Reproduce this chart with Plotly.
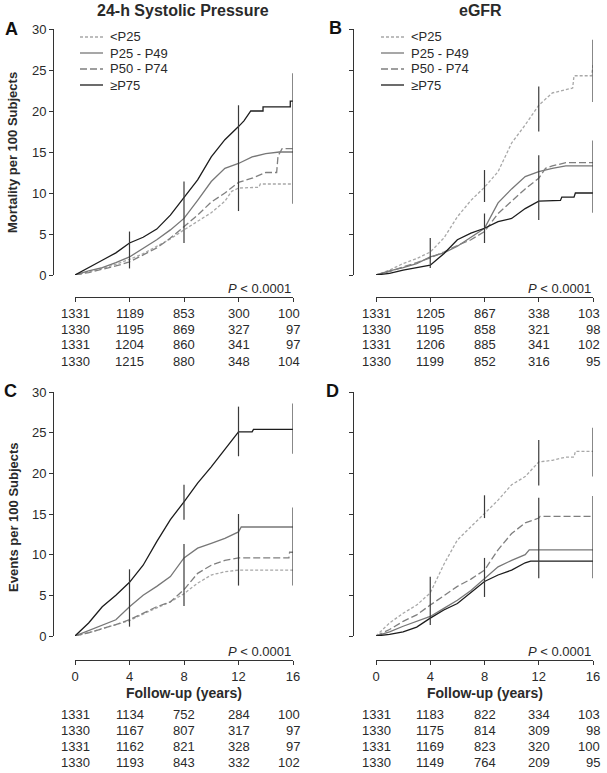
import plotly.graph_objects as go

W, H = 607, 773

def px(x):
    return x / W

def py(y):
    return 1 - y / H

groups = ["<P25", "P25 - P49", "P50 - P74", "≥P75"]
colors = ["#a8a8a8", "#777777", "#7f7f7f", "#1c1c1c"]
dashes = ["3px,2px", "solid", "7px,3px", "solid"]
times = [0, 4, 8, 12, 16]

# ---- A: mortality by 24-h systolic pressure
A_T_LT25 = [0, 1, 2, 3, 4, 5, 6, 7, 8, 9, 10, 11, 11.5, 12, 13.5, 13.6, 16]
A_Y_LT25 = [0, 0.4, 0.8, 1.3, 1.9, 2.6, 3.5, 4.4, 5.5, 6.6, 7.6, 9.0, 10.2, 10.6, 10.7, 11.1, 11.1]
A_T_P25 = [0, 1, 2, 3, 4, 5, 6, 7, 8, 9, 10, 11, 12, 13, 14, 15, 16]
A_Y_P25 = [0, 0.5, 0.9, 1.5, 2.2, 3.2, 4.3, 5.5, 6.9, 9.1, 11.4, 13.0, 13.6, 14.4, 14.8, 15.0, 15.0]
A_T_P50 = [0, 1, 2, 3, 4, 5, 6, 7, 8, 9, 10, 11, 12, 13, 14, 14.8, 14.9, 15.2, 16]
A_Y_P50 = [0, 0.3, 0.7, 1.1, 1.6, 2.4, 3.3, 4.5, 5.9, 7.3, 8.9, 10.0, 11.3, 11.8, 12.5, 12.5, 14.5, 15.4, 15.4]
A_T_P75 = [0, 1, 2, 3, 4, 5, 6, 7, 8, 9, 10, 11, 12, 12.4, 12.9, 13.8, 13.8, 15.8, 15.8, 16]
A_Y_P75 = [0, 0.85, 1.8, 2.7, 3.9, 4.6, 5.6, 7.3, 9.5, 11.6, 14.4, 16.5, 18.1, 18.8, 20.0, 20.0, 20.5, 20.5, 21.2, 21.2]
A_CI_T = [4, 8, 12, 16]
A_CI_LO = [0.8, 3.9, 7.8, 8.7]
A_CI_HI = [5.3, 11.4, 20.7, 24.6]
A_RISK = [[1331, 1189, 853, 300, 100],
          [1330, 1195, 869, 327, 97],
          [1331, 1204, 860, 341, 97],
          [1330, 1215, 880, 348, 104]]

# ---- B: mortality by eGFR
B_T_LT25 = [0, 1, 2, 3, 4, 5, 6, 7, 8, 9, 10, 11, 12, 13, 14, 14.5, 14.6, 15.9, 16]
B_Y_LT25 = [0, 0.6, 1.4, 2.0, 2.8, 4.5, 7.1, 9.1, 10.7, 12.6, 16.1, 18.3, 20.7, 22.2, 22.6, 22.8, 24.3, 24.3, 25.6]
B_T_P25 = [0, 1, 2, 3, 4, 5, 6, 7, 8, 9, 9.5, 10, 11, 12, 13, 14, 16]
B_Y_P25 = [0, 0.5, 0.9, 1.4, 2.2, 2.7, 3.5, 4.6, 5.7, 8.8, 9.7, 10.5, 12.0, 12.6, 13.0, 13.3, 13.3]
B_T_P50 = [0, 1, 2, 3, 4, 5, 6, 7, 8, 9, 10, 11, 12, 12.5, 13, 14, 16]
B_Y_P50 = [0, 0.4, 1.0, 1.5, 2.1, 2.8, 3.6, 4.3, 5.3, 7.5, 9.0, 10.5, 11.8, 13.0, 13.3, 13.7, 13.7]
B_T_P75 = [0, 1, 2, 3, 4, 5, 6, 7, 8, 9, 10, 11, 12, 13.6, 13.7, 14.6, 14.7, 16]
B_Y_P75 = [0, 0.2, 0.6, 0.9, 1.2, 2.6, 4.3, 5.1, 5.7, 6.5, 6.9, 8.1, 9.0, 9.1, 9.5, 9.5, 10.0, 10.0]
B_CI_T = [4, 8, 8, 12, 12, 16, 16]
B_CI_LO = [0.85, 3.9, 8.9, 6.7, 17.5, 7.6, 21.1]
B_CI_HI = [4.5, 7.5, 12.8, 14.6, 23.0, 16.4, 28.7]
B_RISK = [[1331, 1205, 867, 338, 103],
          [1330, 1195, 858, 321, 98],
          [1331, 1206, 885, 341, 102],
          [1330, 1199, 852, 316, 95]]

# ---- C: events by 24-h systolic pressure
C_T_LT25 = [0, 1, 2, 3, 4, 5, 6, 7, 8, 9, 10, 11, 12, 16]
C_Y_LT25 = [0, 0.4, 0.9, 1.4, 1.9, 2.7, 3.5, 4.2, 5.2, 6.5, 7.5, 7.9, 8.1, 8.1]
C_T_P25 = [0, 1, 2, 3, 4, 5, 6, 7, 8, 9, 10, 11, 12, 12.2, 16]
C_Y_P25 = [0, 0.7, 1.35, 2.0, 3.6, 5.0, 6.1, 7.3, 9.6, 10.8, 11.4, 12.0, 12.8, 13.4, 13.4]
C_T_P50 = [0, 1, 2, 3, 4, 5, 6, 7, 8, 9, 10, 11, 12, 15.7, 15.75, 16]
C_Y_P50 = [0, 0.4, 0.9, 1.4, 2.0, 2.8, 3.6, 4.2, 5.7, 7.7, 8.7, 9.3, 9.6, 9.6, 10.3, 10.3]
C_T_P75 = [0, 1, 2, 3, 4, 5, 6, 7, 8, 9, 10, 11, 12, 13.0, 13.1, 16]
C_Y_P75 = [0, 1.6, 3.6, 5.0, 6.6, 8.7, 11.6, 14.3, 16.5, 18.8, 20.8, 22.9, 25.1, 25.1, 25.4, 25.4]
C_CI_T = [4, 8, 8, 12, 12, 16, 16]
C_CI_LO = [1.15, 3.7, 14.3, 6.2, 22.1, 6.2, 22.4]
C_CI_HI = [8.2, 11.3, 18.6, 15.0, 28.2, 15.8, 28.6]
C_RISK = [[1331, 1134, 752, 284, 100],
          [1330, 1167, 807, 317, 97],
          [1331, 1162, 821, 328, 97],
          [1330, 1193, 843, 332, 102]]

# ---- D: events by eGFR
D_T_LT25 = [0, 1, 2, 3, 4, 5, 6, 7, 8, 9, 10, 11, 11.5, 12, 13, 14, 14.6, 14.7, 16]
D_Y_LT25 = [0, 1.6, 2.8, 3.8, 5.3, 8.8, 11.8, 13.4, 15.1, 16.7, 18.6, 19.6, 20.5, 21.4, 21.6, 22.0, 22.0, 22.7, 22.7]
D_T_P25 = [0, 1, 2, 3, 4, 5, 6, 7, 8, 9, 10, 11, 11.3, 16]
D_Y_P25 = [0, 0.5, 1.2, 1.8, 2.4, 3.4, 4.4, 5.6, 7.1, 8.5, 9.3, 10.0, 10.6, 10.6]
D_T_P50 = [0, 1, 2, 3, 4, 5, 6, 7, 8, 9, 10, 11, 12, 12.1, 16]
D_Y_P50 = [0, 0.8, 1.8, 2.6, 3.8, 5.0, 6.1, 7.0, 8.1, 10.6, 12.6, 13.9, 14.5, 14.7, 14.7]
D_T_P75 = [0, 1, 2, 3, 4, 5, 6, 7, 8, 9, 10, 11, 11.4, 16]
D_Y_P75 = [0, 0.2, 0.5, 1.1, 2.2, 3.2, 4.0, 5.4, 6.7, 7.5, 8.1, 9.0, 9.2, 9.2]
D_CI_T = [4, 8, 8, 12, 12, 16, 16]
D_CI_LO = [1.35, 4.8, 14.5, 7.1, 18.5, 7.1, 19.6]
D_CI_HI = [7.3, 9.6, 17.3, 17.0, 24.1, 17.2, 25.6]
D_RISK = [[1331, 1183, 822, 334, 103],
          [1330, 1175, 814, 309, 98],
          [1331, 1169, 823, 320, 100],
          [1330, 1149, 764, 209, 95]]

FONT = "Liberation Sans, Arial, sans-serif"
INK = "#2a2a2a"

panels = [
    # axis suffix, curves, ci, risk table, has legend
    ("", [(A_T_LT25, A_Y_LT25), (A_T_P25, A_Y_P25), (A_T_P50, A_Y_P50), (A_T_P75, A_Y_P75)],
     (A_CI_T, A_CI_LO, A_CI_HI), A_RISK, True),
    ("2", [(B_T_LT25, B_Y_LT25), (B_T_P25, B_Y_P25), (B_T_P50, B_Y_P50), (B_T_P75, B_Y_P75)],
     (B_CI_T, B_CI_LO, B_CI_HI), B_RISK, True),
    ("3", [(C_T_LT25, C_Y_LT25), (C_T_P25, C_Y_P25), (C_T_P50, C_Y_P50), (C_T_P75, C_Y_P75)],
     (C_CI_T, C_CI_LO, C_CI_HI), C_RISK, False),
    ("4", [(D_T_LT25, D_Y_LT25), (D_T_P25, D_Y_P25), (D_T_P50, D_Y_P50), (D_T_P75, D_Y_P75)],
     (D_CI_T, D_CI_LO, D_CI_HI), D_RISK, False),
]

fig = go.Figure()

for suf, curves, ci, risk, leg in panels:
    xa, ya = "x" + suf, "y" + suf
    for i, (t, v) in enumerate(curves):
        fig.add_trace(go.Scatter(
            x=t, y=v, mode="lines", name=groups[i], xaxis=xa, yaxis=ya,
            line=dict(color=colors[i], width=1.3, dash=dashes[i]),
            showlegend=False, hoverinfo="skip"))
    # vertical confidence bars
    bx, by = [], []
    for t, lo, hi in zip(*ci):
        bx += [t, t, None]
        by += [lo, hi, None]
    fig.add_trace(go.Scatter(x=bx, y=by, mode="lines", xaxis=xa, yaxis=ya,
                             line=dict(color="#3a3a3a", width=1.2),
                             showlegend=False, hoverinfo="skip"))

# geometry (pixel positions of the reference)
col_l = [(75, 293, 53), (376, 593, 353)]      # x0, x16, y-axis line
row_t = [(29, 275, 297, [313, 329, 345, 361]),
         (392, 636, 660, [714, 730, 746, 762])]  # y30, y0, x-axis line, table rows

layout = dict(
    width=W, height=H, margin=dict(l=0, r=0, t=0, b=0, autoexpand=False),
    plot_bgcolor="white", paper_bgcolor="white",
    font=dict(family=FONT, size=13, color=INK), showlegend=False,
)

annotations = []
shapes = []
for k, (suf, curves, ci, risk, leg) in enumerate(panels):
    c0, c1, yl = col_l[k % 2]
    r0, r1, xl, rows = row_t[k // 2]
    layout["xaxis" + suf] = dict(
        domain=[px(c0), px(c1)], range=[0, 16], anchor="free", position=py(xl),
        showline=True, linecolor="#333", linewidth=1, ticks="outside", ticklen=4,
        tickcolor="#333", tickvals=times, showticklabels=(k >= 2), showgrid=False,
        zeroline=False, automargin=False, tickfont=dict(size=13, color=INK))
    layout["yaxis" + suf] = dict(
        domain=[py(r1), py(r0)], range=[0, 30], anchor="free", position=px(yl),
        showline=True, linecolor="#333", linewidth=1, ticks="outside", ticklen=4,
        tickcolor="#333", tickvals=[0, 5, 10, 15, 20, 25, 30],
        showticklabels=(k % 2 == 0), showgrid=False, zeroline=False,
        automargin=False, tickfont=dict(size=13, color=INK))
    # P value
    annotations.append(dict(text="<i>P</i> < 0.0001", x=16, xref="x" + suf, y=py(xl - 9),
                            yref="paper", xanchor="right", yanchor="middle",
                            showarrow=False, font=dict(size=13)))
    # numbers at risk
    for r, vals in enumerate(risk):
        for j, v in enumerate(vals):
            last = j == len(vals) - 1
            annotations.append(dict(
                text=str(v), x=times[j], xref="x" + suf, y=py(rows[r]), yref="paper",
                xanchor="right" if last else "center", xshift=9 if last else 0,
                yanchor="middle", showarrow=False, font=dict(size=13)))
    if k >= 2:
        annotations.append(dict(text="<b>Follow-up (years)</b>", x=8, xref="x" + suf,
                                y=py(693), yref="paper", showarrow=False, xanchor="center",
                                font=dict(size=14), yanchor="middle"))
    # legend drawn by hand (tighter rows than plotly's legend allows)
    if leg:
        lx = c0 + 5
        for i, name in enumerate(groups):
            ly = 37 + 16 * i
            shapes.append(dict(type="line", xref="paper", yref="paper",
                               x0=px(lx), x1=px(lx + 23), y0=py(ly), y1=py(ly),
                               line=dict(color=colors[i], width=1.3, dash=dashes[i])))
            annotations.append(dict(text=name, x=px(lx + 28), y=py(ly), xref="paper",
                                    yref="paper", xanchor="left", yanchor="middle",
                                    showarrow=False, font=dict(size=13)))

titles = [("<b>24-h Systolic Pressure</b>", 183), ("<b>eGFR</b>", 480)]
for txt, x in titles:
    annotations.append(dict(text=txt, x=px(x), y=py(11), xref="paper", yref="paper",
                            showarrow=False, font=dict(size=16), xanchor="center",
                            yanchor="middle"))

letters = [("A", 11, 29), ("B", 335, 28), ("C", 10, 391), ("D", 333, 391)]
for txt, x, y in letters:
    annotations.append(dict(text="<b>" + txt + "</b>", x=px(x), y=py(y), xref="paper",
                            yref="paper", showarrow=False, font=dict(size=18, color="#111"),
                            xanchor="center", yanchor="middle"))

ytitles = [("<b>Mortality per 100 Subjects</b>", 153), ("<b>Events per 100 Subjects</b>", 517)]
for txt, y in ytitles:
    annotations.append(dict(text=txt, x=px(13), y=py(y), xref="paper", yref="paper",
                            showarrow=False, textangle=-90, font=dict(size=13),
                            xanchor="center", yanchor="middle"))

layout["annotations"] = annotations
layout["shapes"] = shapes

fig.update_layout(**layout)
# drop the browser's default 8px body margin so the figure sits at the page origin
fig.write_html("out.html", config={"displayModeBar": False},
               post_script="document.body.style.margin='0';")
